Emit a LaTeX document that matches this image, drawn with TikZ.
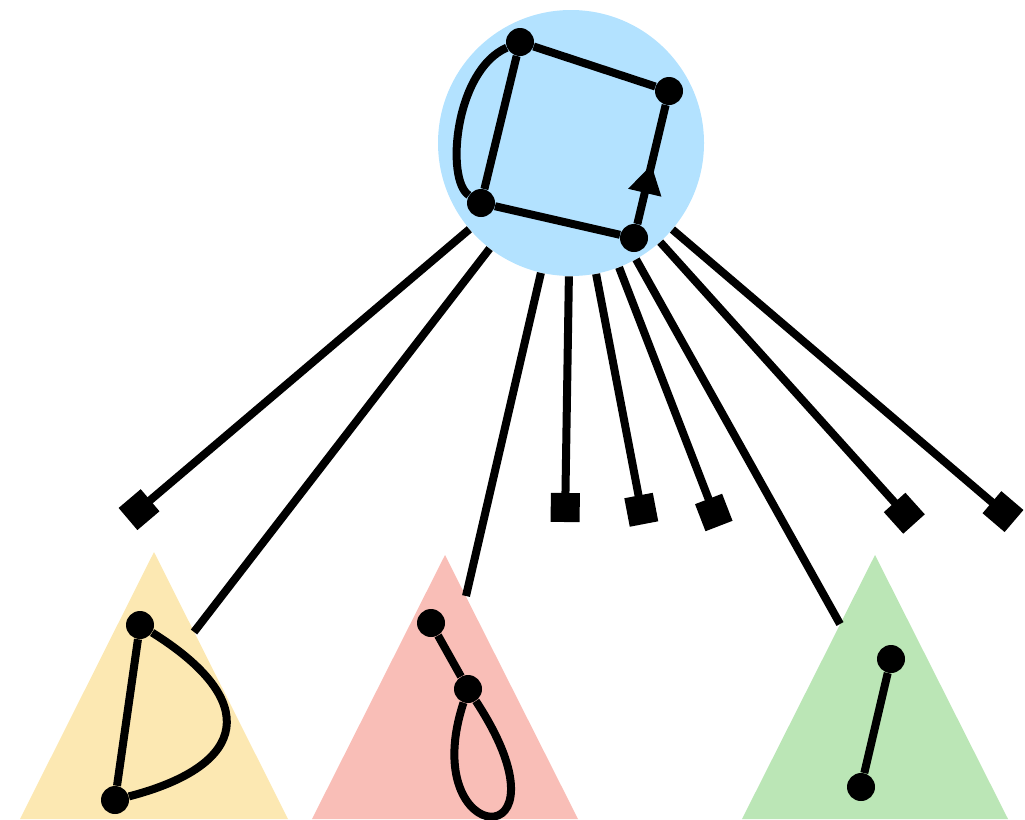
\documentclass[tikz,border=0pt]{standalone}
\usetikzlibrary{arrows.meta,decorations.markings}
\definecolor{blobblue}{RGB}{179,226,255}
\definecolor{treeyellow}{RGB}{252,232,178}
\definecolor{treepink}{RGB}{249,190,183}
\definecolor{treegreen}{RGB}{187,230,182}
\begin{document}
\begin{tikzpicture}[x=0.2mm,y=-0.2mm,
 dot/.style={circle,fill,inner sep=0pt,minimum size=5.6mm},
 edge/.style={line width=1.6mm},
 stub/.style={edge,-{Square[length=5.8mm,width=5.8mm]}},
 midarrow/.style={postaction={decorate},decoration={markings,
   mark=at position 0.5 with {\arrow{Triangle[length=5.8mm,width=6.4mm]}}}}]
\useasboundingbox (0,0) rectangle (1025,819);
% subtrees
\fill[treeyellow] (154,552) -- (288,819) -- (20,819) -- cycle;
\fill[treepink] (445,555) -- (578,819) -- (312,819) -- cycle;
\fill[treegreen] (875,555) -- (1008,819) -- (742,819) -- cycle;
% contracted node
\node[circle,fill=blobblue,inner sep=0pt,minimum size=53.2mm] (blob) at (571,143) {};
\node[dot] (a) at (520,42) {};
\node[dot] (b) at (669,91) {};
\node[dot] (c) at (481,203) {};
\node[dot] (d) at (634,238) {};
\draw[edge] (a) -- (b);
\draw[edge,midarrow] (d) -- (b);
\draw[edge] (d) -- (c) -- (a);
\draw[edge] (a) .. controls (455,70) and (445,180) .. (c);
% stubs and links
\coordinate (s1) at (128,519);
\coordinate (s2) at (565,522);
\coordinate (s3) at (644,524);
\coordinate (s4) at (719,526);
\coordinate (s5) at (914,524);
\coordinate (s6) at (1014,521);
\foreach \i in {1,...,6} \draw[stub] (blob) -- (s\i);
\coordinate (ty) at (194,632);
\coordinate (tp) at (466,596);
\coordinate (tg) at (840,624);
\foreach \t in {ty,tp,tg} \draw[edge] (blob) -- (\t);
% yellow
\node[dot] (y1) at (140,625) {};
\node[dot] (y2) at (115,800) {};
\draw[edge] (y1) -- (y2);
\draw[edge] (y1) .. controls (260,700) and (250,765) .. (y2);
% pink
\node[dot] (p1) at (431,623) {};
\node[dot] (p2) at (468,689) {};
\draw[edge] (p1) -- (p2);
\draw[edge] (p2) .. controls (415,850) and (580,860) .. (p2);
% green
\node[dot] (g1) at (891,659) {};
\node[dot] (g2) at (861,787) {};
\draw[edge] (g1) -- (g2);
\end{tikzpicture}
\end{document}
